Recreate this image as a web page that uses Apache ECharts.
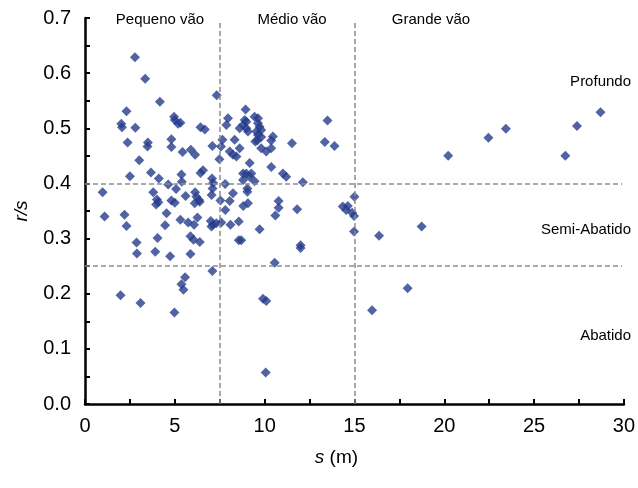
<!DOCTYPE html>
<html>
<head>
<meta charset="utf-8">
<script src="https://cdn.jsdelivr.net/npm/echarts@6/dist/echarts.min.js"></script>
<style>html,body{margin:0;padding:0;background:#fff}#c{width:638px;height:488px}</style>
</head>
<body>
<div id="c"></div>
<script>
// [s (m), r/s] pairs
const smallSpan = [
  [2.78,0.629],[3.35,0.590],[4.17,0.548],[7.33,0.560],
  [2.31,0.531],[2.02,0.508],[2.06,0.502],[2.80,0.501],
  [4.96,0.521],[5.00,0.515],[5.18,0.508],[5.31,0.510],
  [6.43,0.502],[6.67,0.498],
  [2.37,0.474],[3.50,0.474],[3.48,0.467],[4.81,0.480],[4.81,0.466],
  [5.43,0.457],[5.89,0.461],[6.13,0.452],[7.09,0.468],
  [3.02,0.442],[7.48,0.444],
  [2.50,0.413],[3.67,0.420],[4.11,0.409],[5.37,0.416],[6.43,0.419],[6.57,0.424],[7.07,0.409],[7.13,0.401],
  [5.39,0.403],[4.63,0.398],[5.07,0.390],[0.98,0.384],[3.80,0.384],
  [4.00,0.371],[4.08,0.366],[3.96,0.362],[4.81,0.369],[5.00,0.365],[5.60,0.377],
  [6.13,0.384],[6.20,0.376],[6.35,0.370],[6.11,0.364],[6.39,0.367],
  [7.10,0.391],[7.05,0.379],[7.54,0.369],
  [1.09,0.340],[2.20,0.343],[2.31,0.323],
  [4.54,0.346],[4.46,0.324],
  [5.31,0.334],[5.74,0.329],[6.07,0.325],[6.26,0.338],
  [7.00,0.332],[7.13,0.325],[7.31,0.328],[7.04,0.322],
  [4.04,0.301],[5.87,0.304],[6.04,0.298],[6.39,0.294],
  [2.87,0.293],[2.89,0.273],[3.91,0.276],[4.74,0.268],[5.87,0.272],
  [7.09,0.241],[5.57,0.230],[5.37,0.217],[5.48,0.207],
  [1.98,0.197],[3.09,0.183],[4.98,0.166]
];
const mediumSpan = [
  [7.57,0.467],[7.65,0.479],[7.59,0.329],[7.80,0.399],[7.81,0.352],
  [8.94,0.534],[7.96,0.518],[7.87,0.506],[9.44,0.521],[9.63,0.518],
  [8.89,0.515],[8.98,0.512],[8.80,0.506],[8.61,0.500],[8.98,0.500],[9.07,0.494],
  [9.63,0.509],[9.72,0.503],[9.81,0.497],[9.54,0.494],[9.63,0.488],[9.81,0.484],[9.59,0.478],[9.48,0.476],
  [10.46,0.485],[10.37,0.478],[11.52,0.473],[8.33,0.479],[8.61,0.464],
  [8.06,0.458],[8.24,0.452],[8.43,0.449],
  [9.81,0.464],[10.09,0.458],[10.37,0.464],
  [9.17,0.437],[10.37,0.430],
  [8.80,0.418],[8.98,0.418],[9.26,0.418],[9.17,0.412],[11.02,0.418],[11.20,0.412],
  [8.80,0.406],[9.44,0.404],[12.13,0.402],
  [13.50,0.514],[13.35,0.475],[13.89,0.468],
  [9.04,0.391],[9.04,0.385],[8.24,0.382],
  [10.78,0.368],[10.78,0.356],[11.81,0.353],
  [8.81,0.359],[9.07,0.364],[8.06,0.368],
  [10.60,0.342],
  [14.35,0.358],[14.63,0.359],[14.54,0.352],[14.87,0.347],[14.98,0.341],[15.00,0.376],[14.98,0.313],
  [8.10,0.325],[8.56,0.331],[9.72,0.317],[8.70,0.297],[8.56,0.297],
  [12.00,0.288],[12.00,0.283],[10.56,0.256],
  [9.91,0.191],[10.09,0.187],[10.06,0.057]
];
const largeSpan = [
  [28.70,0.529],[27.39,0.504],[23.43,0.499],[22.46,0.483],[20.22,0.450],[26.74,0.450],
  [16.37,0.305],[18.74,0.322],[17.96,0.210],[15.98,0.170]
];
const spanLimits = [7.5, 15];
const classLimits = [0.25, 0.4];
const yTicks = ['0.0','0.1','0.2','0.3','0.4','0.5','0.6','0.7'];
const spanLabels = ['Pequeno vão','Médio vão','Grande vão'];
const classLabels = ['Profundo','Semi-Abatido','Abatido'];

const FONT = '"Liberation Sans", Arial, sans-serif';
const chart = echarts.init(document.getElementById('c'), null, {renderer:'canvas'});
const dash = {type:[5,3], color:'#8c8c8c', width:1.5};
const lines = [];
spanLimits.forEach(v => lines.push([{coord:[v,0]},{coord:[v,0.693]}]));
classLimits.forEach(v => lines.push([{coord:[0,v]},{coord:[29.9,v]}]));

const txt = (t, x, y, align) => ({type:'text', x:x, y:y, style:{text:t, fontSize:15, fontFamily:FONT, fill:'#000', align:align, verticalAlign:'middle'}});

chart.setOption({
  animation:false,
  backgroundColor:'#fff',
  grid:{left:85, right:13, top:18, bottom:84},
  xAxis:{
    type:'value', min:0, max:30, interval:5,
    axisLine:{onZero:false, lineStyle:{color:'#000', width:2.5}},
    axisTick:{inside:true, length:5, lineStyle:{color:'#000', width:2}},
    minorTick:{show:true, splitNumber:2, length:5, lineStyle:{color:'#000', width:2}},
    splitLine:{show:false},
    axisLabel:{fontFamily:FONT, fontSize:20, color:'#000', margin:12},
    name:'{i|s} (m)', nameLocation:'middle', nameGap:44,
    nameTextStyle:{fontFamily:FONT, fontSize:19, color:'#000', padding:[0,36,0,0], rich:{i:{fontStyle:'italic', fontFamily:FONT, fontSize:19}}}
  },
  yAxis:{
    type:'value', min:0, max:0.7, interval:0.1,
    axisLine:{show:true, lineStyle:{color:'#000', width:2.5}},
    axisTick:{show:true, inside:true, length:5, lineStyle:{color:'#000', width:2}},
    minorTick:{show:true, splitNumber:2, length:5, lineStyle:{color:'#000', width:2}},
    splitLine:{show:false},
    axisLabel:{fontFamily:FONT, fontSize:20, color:'#000', margin:14, formatter:(v)=>yTicks[Math.round(v*10)]},
    name:'r/s', nameLocation:'middle', nameGap:54,
    nameTextStyle:{fontFamily:FONT, fontSize:19, fontStyle:'italic', color:'#000'}
  },
  series:[{
    type:'scatter',
    data:smallSpan.concat(mediumSpan, largeSpan),
    symbol:'diamond', symbolSize:10,
    itemStyle:{color:'#253C8C'},
    markLine:{silent:true, symbol:'none', label:{show:false}, lineStyle:dash, data:lines, animation:false}
  }],
  graphic:[
    txt(spanLabels[0], 160, 20, 'center'),
    txt(spanLabels[1], 292, 20, 'center'),
    txt(spanLabels[2], 431, 20, 'center'),
    txt(classLabels[0], 631, 82, 'right'),
    txt(classLabels[1], 631, 230, 'right'),
    txt(classLabels[2], 631, 336, 'right')
  ]
});
</script>
</body>
</html>
